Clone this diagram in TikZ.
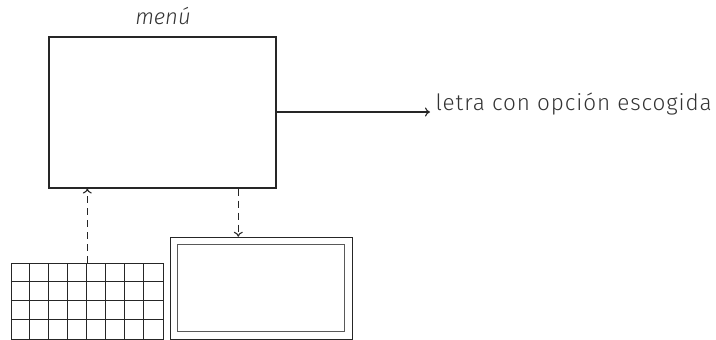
\documentclass[tikz,border=0pt]{standalone}
\usepackage{fontspec}
\setmainfont{Fira Sans Light}[ItalicFont={Fira Sans Light Italic}]
\usetikzlibrary{arrows.meta,calc}
\begin{document}
\begin{tikzpicture}[x=1pt,y=-1pt,
  line width=1.1pt, draw=black!85,
  lbl/.style={font=\fontsize{22.5}{26}\selectfont, text=black!80, inner sep=0pt},
  flow/.style={-{To[length=5pt,width=9pt]}},
  dflow/.style={flow, dash pattern=on 7pt off 5pt}]
\useasboundingbox (0,0) rectangle (716,340);
\node[draw, minimum width=227pt, minimum height=151pt, inner sep=0pt] (menu) at (162.5,112.5) {};
\node[lbl, font=\fontsize{22}{26}\selectfont\itshape] (mtitle) at (163,16) {menú};
\node[lbl, anchor=west] (out) at (435,104) {\addfontfeatures{LetterSpace=4}letra con opción escogida};
\coordinate (outend) at (430,112);
\draw[flow] (menu.east |- outend) -- (outend);
% keyboard
\node[draw, minimum width=152pt, minimum height=76pt, inner sep=0pt] (kbd) at (87.3,301.3) {};
\foreach \i in {1,...,7} \draw[line width=1.0pt] ($(kbd.south west)+(19*\i,0)$) -- ($(kbd.north west)+(19*\i,0)$);
\foreach \j in {1,2,3} \draw[line width=1.0pt] ($(kbd.north west)+(0,19*\j)$) -- ($(kbd.north east)+(0,19*\j)$);
% screen
\node[draw, minimum width=182pt, minimum height=102pt, inner sep=0pt] (scr) at (261.3,288.3) {};
\node[draw=black!65, minimum width=166.6pt, minimum height=87.4pt, inner sep=0pt] (scrin) at (261,288) {};
\draw[dflow] (kbd.north) -- (kbd.north |- menu.south);
\draw[dflow] (menu.south -| 238.3,0) -- (scr.north -| 238.3,0);
\end{tikzpicture}
\end{document}
